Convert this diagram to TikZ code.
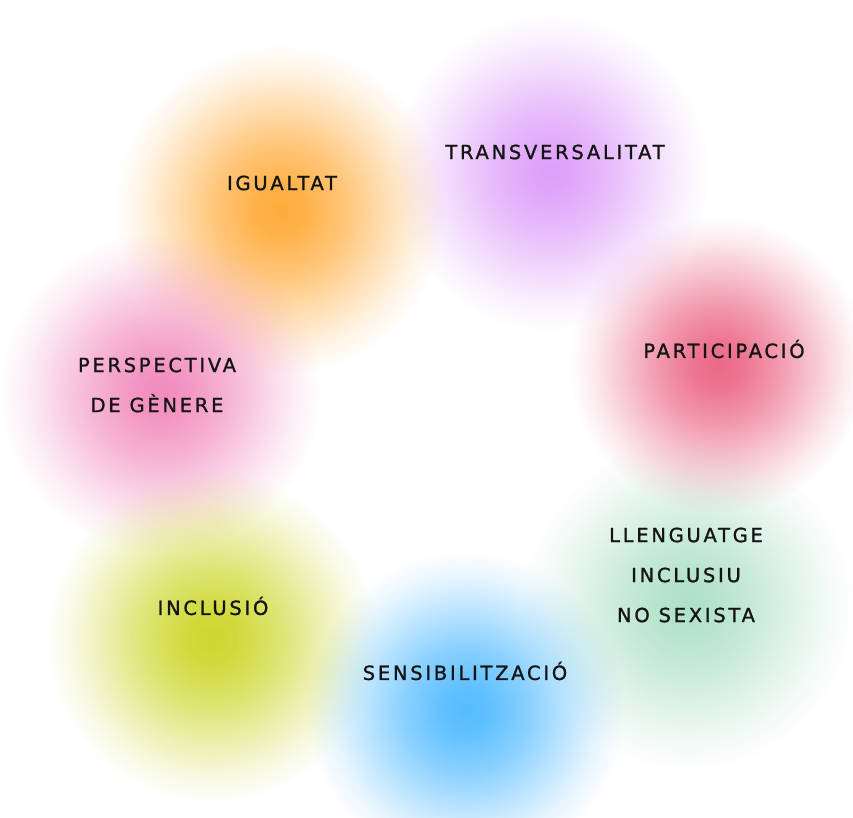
\documentclass[tikz,border=0pt]{standalone}
\usepackage{fontspec}
\setmainfont{DejaVu Sans}[LetterSpace=14, FakeBold=1.2]
\usetikzlibrary{fadings}
\pgfdeclareradialshading{blobshade}{\pgfpoint{0bp}{0bp}}{color(0bp)=(white); color(4bp)=(white!92!black); color(10bp)=(white!68!black); color(16bp)=(white!38!black); color(21bp)=(white!14!black); color(25bp)=(black); color(50bp)=(black)}
\pgfdeclarefading{blob}{\pgfuseshading{blobshade}}
\definecolor{cOrange}{RGB}{255,172,60}
\definecolor{cPurple}{RGB}{222,160,250}
\definecolor{cRed}{RGB}{236,105,135}
\definecolor{cGreen}{RGB}{175,225,200}
\definecolor{cBlue}{RGB}{85,188,255}
\definecolor{cYellow}{RGB}{205,215,45}
\definecolor{cPink}{RGB}{242,140,190}
\definecolor{cText}{RGB}{20,20,20}
\tikzset{
  lbl/.style={text=cText, font=\fontsize{19.5}{40}\selectfont, align=center, inner sep=0pt},
  blobfill/.style={fill=#1, path fading=blob}
}
\begin{document}
\begin{tikzpicture}[x=1pt,y=-1pt]
\useasboundingbox[fill=white] (0,0) rectangle (853,817);
\fill[blobfill=cGreen] (688,605) circle (165);
\fill[blobfill=cRed] (718,365) circle (148);
\fill[blobfill=cPurple] (550,172) circle (158);
\fill[blobfill=cOrange] (280,210) circle (165);
\fill[blobfill=cPink] (160,392) circle (160);
\fill[blobfill=cYellow] (212,638) circle (165);
\fill[blobfill=cBlue] (466,710) circle (158);
\node[lbl] (igualtat) at (282,183) {IGUALTAT};
\node[lbl] (transv) at (555,152) {TRANSVERSALITAT};
\node[lbl] (partic) at (724,349) {PARTICIPACIÓ};
\node[lbl] (persp) at (157,385) {PERSPECTIVA\\DE GÈNERE};
\node[lbl] (llenguatge) at (686,575) {LLENGUATGE\\INCLUSIU\\NO SEXISTA};
\node[lbl] (sensib) at (465,671) {SENSIBILITZACIÓ};
\node[lbl] (inclusio) at (213,606) {INCLUSIÓ};
\end{tikzpicture}
\end{document}
